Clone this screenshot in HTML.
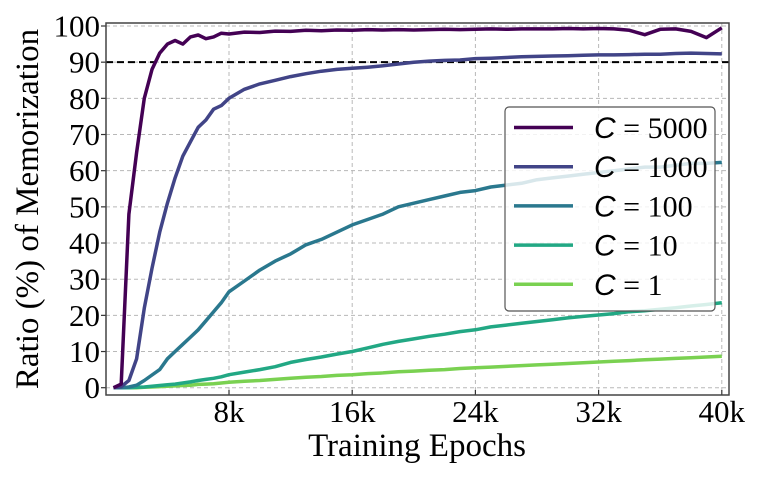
<!DOCTYPE html>
<html><head><meta charset="utf-8"><style>
body{margin:0;background:#fff;}
svg{display:block;font-family:"Liberation Serif",serif;}
</style></head><body>
<svg id="chart" width="762" height="481"></svg>
<script>
const epochsK=[0.5,1,1.5,2,2.5,3,3.5,4,4.5,5,5.5,6,6.5,7,7.5,8,9,10,11,12,13,14,15,16,17,18,19,20,21,22,23,24,25,26,27,28,29,30,31,32,33,34,35,36,37,38,39,40];
const c5000=[0,1,48,65,80,88,92.5,95,96,95,97,97.5,96.5,97,98,97.8,98.3,98.2,98.6,98.5,98.8,98.7,98.9,98.8,99,98.9,99,98.9,99,99.1,99,99.1,99.2,99.1,99.2,99.2,99.2,99.3,99.2,99.3,99.2,98.8,97.6,99.1,99.2,98.5,96.8,99.5];
const c1000=[0,0.3,2,8,22,33,43,51,58,64,68,72,74,77,78,80,82.5,84,85,86,86.8,87.5,88,88.3,88.6,89,89.5,90,90.3,90.5,90.6,91,91.1,91.3,91.5,91.6,91.7,91.8,91.9,92,92,92.1,92.2,92.2,92.4,92.5,92.4,92.3];
const c100=[0,0,0.2,0.7,2,3.5,5,8,10,12,14,16,18.5,21,23.5,26.5,29.5,32.5,35,37,39.5,41,43,45,46.5,48,50,51,52,53,54,54.5,55.5,56,56.5,57.5,58,58.5,59,59.5,60,60.5,61,61,61.5,62,62,62.3];
const c10=[0,0,0,0.1,0.2,0.4,0.6,0.8,1,1.3,1.6,2,2.3,2.6,3,3.6,4.3,5,5.8,7,7.8,8.5,9.3,10,11,12,12.8,13.5,14.2,14.8,15.5,16,16.8,17.3,17.8,18.3,18.8,19.3,19.7,20.1,20.5,21,21.3,21.7,22.1,22.6,23,23.5];
const c1=[0,0,0,0,0.1,0.2,0.3,0.4,0.5,0.6,0.7,0.9,1,1.1,1.3,1.5,1.8,2,2.3,2.6,2.9,3.1,3.4,3.6,3.9,4.1,4.4,4.6,4.8,5,5.3,5.5,5.7,5.9,6.1,6.3,6.5,6.7,6.9,7.1,7.3,7.5,7.7,7.9,8.1,8.3,8.5,8.7];
const seriesLabels=["5000","1000","100","10","1"];
const seriesColors=["#440154","#414487","#2a788e","#22a884","#7ad151"];
const yTicks=[0,10,20,30,40,50,60,70,80,90,100];
const xTicks=[8,16,24,32,40];
const xTickLabels=["8k","16k","24k","32k","40k"];
const threshold=90;

const NS="http://www.w3.org/2000/svg";
const svg=document.getElementById('chart');
const L=106,R=729,T=23,B=395;
const xs=k=>105.8+15.4*k;
const ys=v=>387.7-3.617*v;
function mk(tag,attrs,parent){const e=document.createElementNS(NS,tag);for(const k in attrs)e.setAttribute(k,attrs[k]);(parent||svg).appendChild(e);return e;}

yTicks.forEach(v=>{
  const g=mk('line',{x1:L,x2:R,y1:ys(v),y2:ys(v),stroke:'#b8b8b8','stroke-width':1,'stroke-dasharray':'4,3'});
  
  
  const t=mk('line',{x1:L-5,x2:L,y1:ys(v),y2:ys(v),stroke:'#333','stroke-width':1.2});
  
  
  const tx=mk('text',{x:100,y:ys(v)+10.5,'text-anchor':'end','font-size':31,fill:'#000'});
  tx.textContent=v;
  
  
});
xTicks.forEach((k,i)=>{
  const g=mk('line',{x1:xs(k),x2:xs(k),y1:T,y2:B,stroke:'#b8b8b8','stroke-width':1,'stroke-dasharray':'4,3'});
  
  
  const t=mk('line',{x1:xs(k),x2:xs(k),y1:B,y2:B-5,stroke:'#333','stroke-width':1.2});
  
  
  const tx=mk('text',{x:xs(k),y:422,'text-anchor':'middle','font-size':31,fill:'#000'});
  tx.textContent=xTickLabels[i];
  
  
});
const th=mk('line',{x1:L,x2:R,y1:ys(threshold),y2:ys(threshold),stroke:'#000','stroke-width':2,'stroke-dasharray':'7,4'});


const allSeries=[c5000,c1000,c100,c10,c1];
for(let s=allSeries.length-1;s>=0;s--){
  const d=allSeries[s].map((v,i)=>(i?'L':'M')+xs(epochsK[i]).toFixed(1)+','+ys(v).toFixed(1)).join(' ');
  const p=mk('path',{d:d,fill:'none',stroke:seriesColors[s],'stroke-width':3.5,'stroke-linejoin':'round'});
  
  
}
const fr=mk('rect',{x:L,y:T,width:R-L,height:B-T,fill:'none',stroke:'#444','stroke-width':1.5});


const lg=mk('g',{});


mk('rect',{x:505,y:107,width:210,height:204,rx:4,fill:'#fff','fill-opacity':0.82,stroke:'#555','stroke-width':1.2},lg);
seriesLabels.forEach((lab,i)=>{
  const y=127.5+39.2*i;
  const e=mk('g',{},lg);
  
  
  mk('line',{x1:514,x2:573,y1:y,y2:y,stroke:seriesColors[i],'stroke-width':3.5},e);
  const t=mk('text',{x:594,y:y+10.5,'font-size':30,fill:'#000'},e);
  t.innerHTML='<tspan font-style="italic" font-family="Liberation Sans, sans-serif">C</tspan> = '+lab;
});
const xt=mk('text',{x:417,y:456,'text-anchor':'middle','font-size':33,fill:'#000'});
xt.textContent='Training Epochs';


const yt=mk('text',{x:0,y:0,'text-anchor':'middle','font-size':33,fill:'#000',transform:'translate(38,209) rotate(-90)'});
yt.textContent='Ratio (%) of Memorization';


</script>
</body></html>
